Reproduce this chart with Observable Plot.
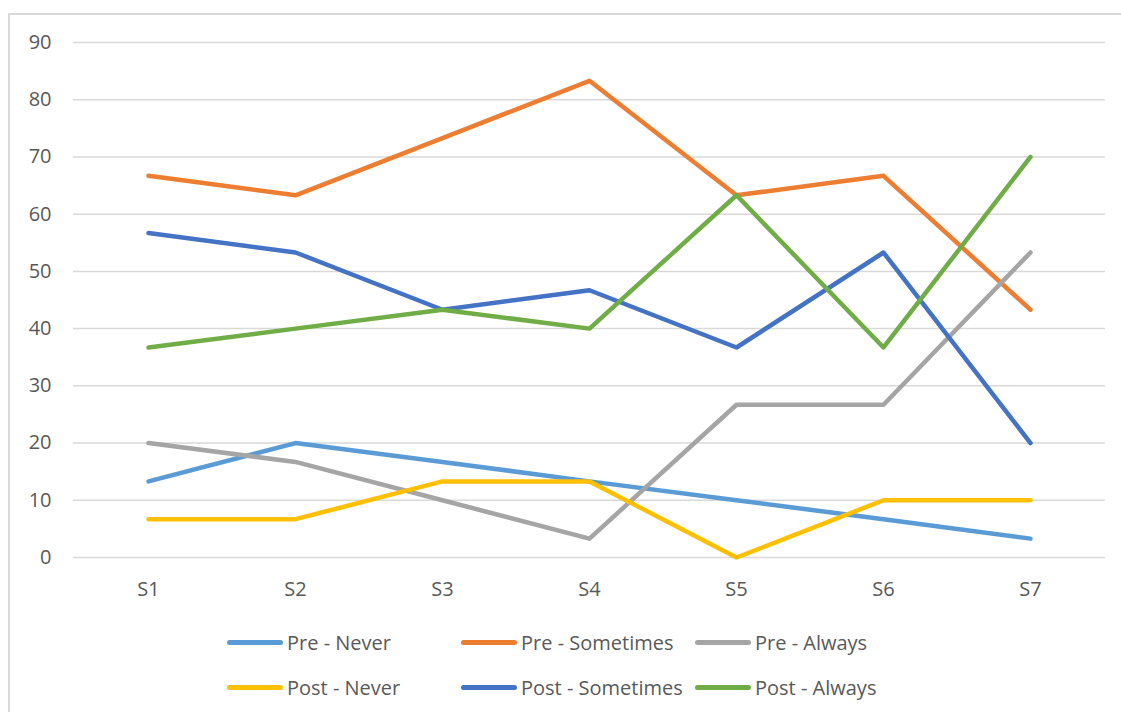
<!DOCTYPE html>
<html>
<head>
<meta charset="utf-8">
<script src="https://cdn.jsdelivr.net/npm/d3@7"></script>
<script src="https://cdn.jsdelivr.net/npm/@observablehq/plot@0.6"></script>
<style>
  html, body { margin: 0; padding: 0; background: #fff; }
  body { width: 1121px; height: 712px; position: relative; overflow: hidden; font-family: "Open Sans", "Noto Sans", sans-serif; }
  #frame { position: absolute; left: 8px; top: 13px; width: 1130px; height: 720px; border: 2px solid #d9d9d9; box-sizing: border-box; }
  #chart { position: absolute; left: 0; top: 0; }
  .leg { position: absolute; display: flex; align-items: center; font-size: 20px; color: #595959; white-space: nowrap; }
  .leg span.sw { display: inline-block; width: 56px; height: 5px; border-radius: 3px; margin-right: 4px; }
</style>
</head>
<body>
<div id="frame"></div>
<div id="chart"></div>
<div id="legend"></div>
<script>
const categories = ["S1", "S2", "S3", "S4", "S5", "S6", "S7"];
const seriesNames = ["Pre - Never", "Pre - Sometimes", "Pre - Always", "Post - Never", "Post - Sometimes", "Post - Always"];
const seriesColors = ["#5B9BD5", "#ED7D31", "#A5A5A5", "#FFC000", "#4472C4", "#70AD47"];
const preNever = [13.3, 20, 16.7, 13.3, 10, 6.7, 3.3];
const preSometimes = [66.7, 63.3, 73.3, 83.3, 63.3, 66.7, 43.3];
const preAlways = [20, 16.7, 10, 3.3, 26.7, 26.7, 53.3];
const postNever = [6.7, 6.7, 13.3, 13.3, 0, 10, 10];
const postSometimes = [56.7, 53.3, 43.3, 46.7, 36.7, 53.3, 20];
const postAlways = [36.7, 40, 43.3, 40, 63.3, 36.7, 70];
const yTicks = [0, 10, 20, 30, 40, 50, 60, 70, 80, 90];

const seriesValues = [preNever, preSometimes, preAlways, postNever, postSometimes, postAlways];
const data = [];
seriesNames.forEach((name, i) => {
  categories.forEach((c, j) => data.push({series: name, cat: c, value: seriesValues[i][j]}));
});

const chart = Plot.plot({
  width: 1121,
  height: 620,
  marginLeft: 73,
  marginRight: 16,
  marginTop: 42,
  marginBottom: 63,
  style: {fontFamily: '"Open Sans", "Noto Sans", sans-serif', fontSize: "20px", color: "#595959", background: "transparent"},
  x: {type: "point", domain: categories, padding: 0.5, label: null},
  y: {domain: [0, 90], ticks: yTicks, label: null},
  color: {domain: seriesNames, range: seriesColors},
  marks: [
    Plot.gridY(yTicks, {stroke: "#d9d9d9", strokeOpacity: 1, strokeWidth: 1.5}),
    Plot.axisY(yTicks, {tickSize: 0, tickPadding: 22, fill: "#595959", fontSize: 20}),
    Plot.axisX({tickSize: 0, tickPadding: 24, fill: "#595959", fontSize: 20}),
    Plot.line(data, {x: "cat", y: "value", z: "series", stroke: "series", strokeWidth: 4.5, strokeLinecap: "round", strokeLinejoin: "round"})
  ]
});
document.getElementById("chart").appendChild(chart);

const legendPos = [[227, 642], [461, 642], [695, 642], [227, 687], [461, 687], [695, 687]];
const legend = document.getElementById("legend");
seriesNames.forEach((name, i) => {
  const d = document.createElement("div");
  d.className = "leg";
  d.style.left = legendPos[i][0] + "px";
  d.style.top = (legendPos[i][1] - 14) + "px";
  d.style.height = "28px";
  const sw = document.createElement("span");
  sw.className = "sw";
  sw.style.background = seriesColors[i];
  d.appendChild(sw);
  d.appendChild(document.createTextNode(name));
  legend.appendChild(d);
});
</script>
</body>
</html>
